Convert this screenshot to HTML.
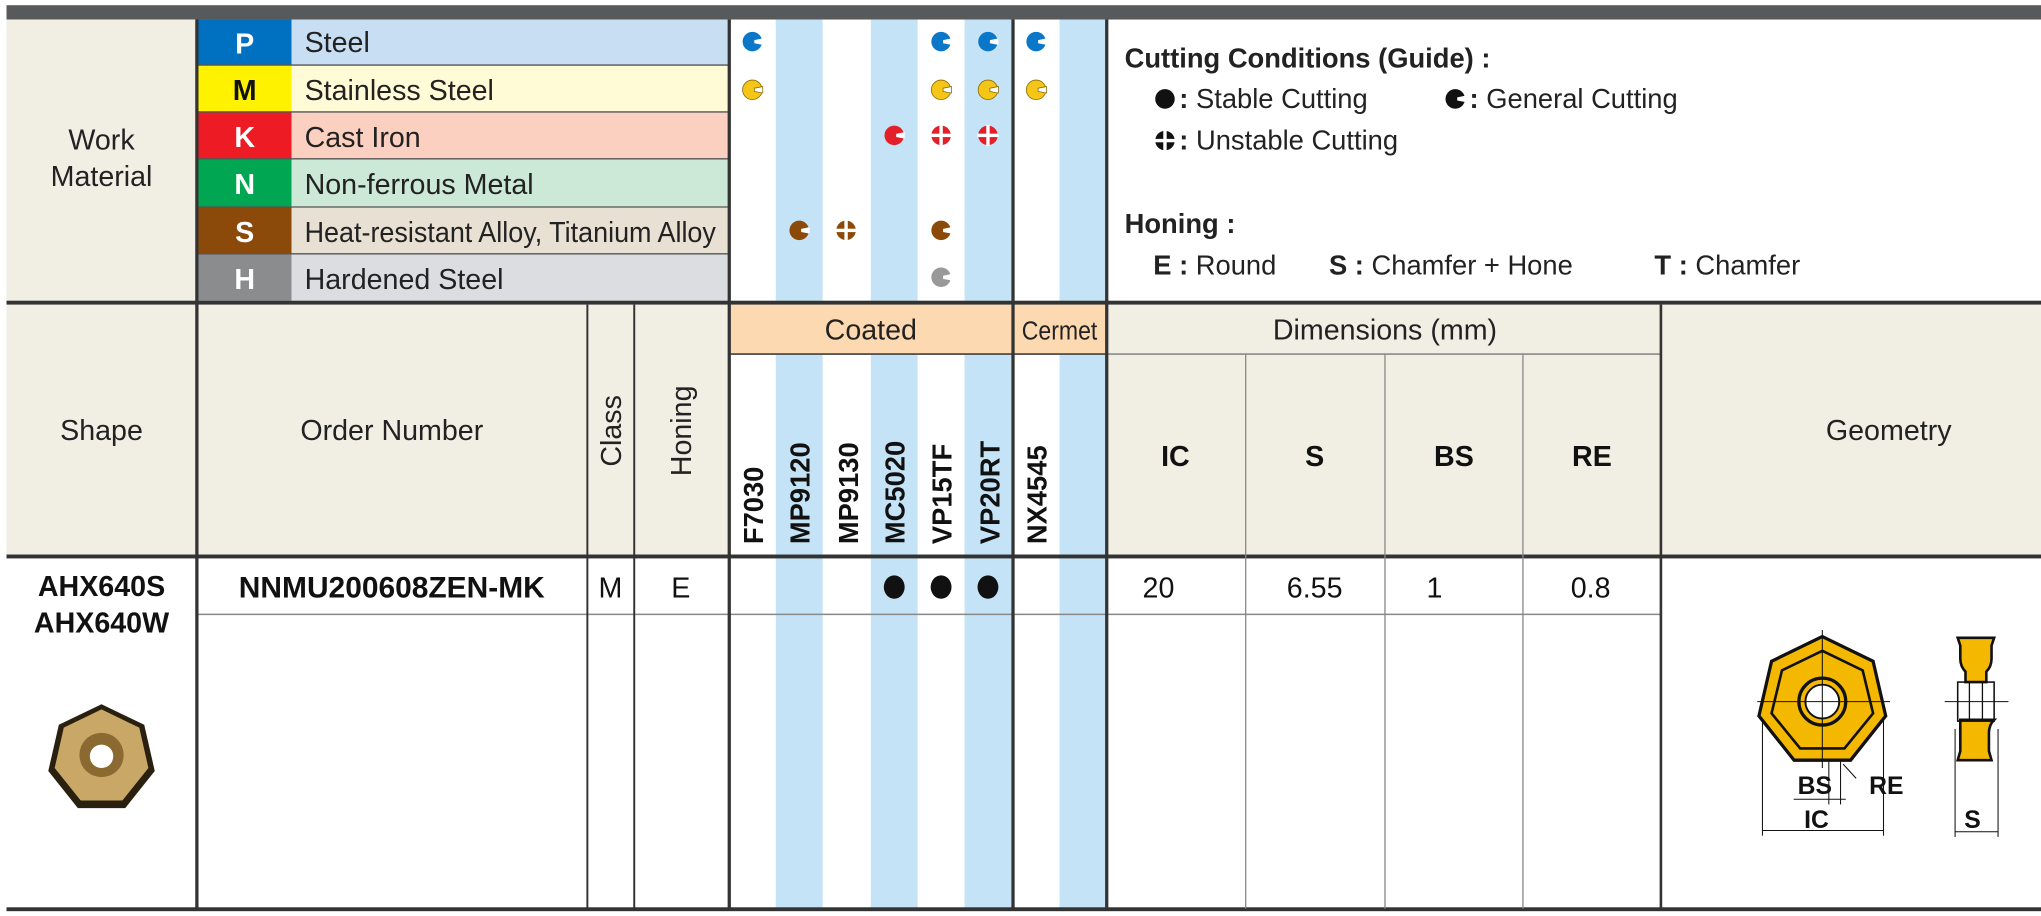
<!DOCTYPE html>
<html><head><meta charset="utf-8"><style>html,body{margin:0;padding:0;background:#fff}svg{display:block}</style></head><body>
<svg width="2041" height="916" viewBox="0 0 1568 703.7" preserveAspectRatio="none" xmlns="http://www.w3.org/2000/svg" font-family="Liberation Sans, Arial, sans-serif">
<defs>
<g id="cc"><circle r="7.5"/><path d="M8,-2.5 L1.5,-1.2 L1.5,1.2 L8,2.5 Z" fill="#fff"/></g>
<g id="cx"><circle r="7.5"/><rect x="-1.3" y="-8" width="2.6" height="16" fill="#fff"/><rect x="-8" y="-1.3" width="16" height="2.6" fill="#fff"/></g>
</defs>
<rect x="0" y="0" width="1568" height="704" fill="#fff"/>
<rect x="5" y="4" width="1563" height="11" fill="#58595b"/>
<rect x="5" y="15" width="146" height="216" fill="#f1eee4"/>
<text x="78" y="115" font-size="22" text-anchor="middle" fill="#222">Work</text>
<text x="78" y="143" font-size="22" text-anchor="middle" fill="#222">Material</text>
<g font-size="22" font-weight="bold" text-anchor="middle">
<rect x="151" y="15" width="73" height="35" fill="#0070c0"/><rect x="224" y="15" width="336" height="35" fill="#c8def2"/><text x="188" y="41" fill="#fff">P</text>
<rect x="151" y="50" width="73" height="36" fill="#fff200"/><rect x="224" y="50" width="336" height="36" fill="#fffbd6"/><text x="188" y="77" fill="#111">M</text>
<rect x="151" y="86" width="73" height="36" fill="#ed1c24"/><rect x="224" y="86" width="336" height="36" fill="#fbd0c0"/><text x="188" y="113" fill="#fff">K</text>
<rect x="151" y="122" width="73" height="37" fill="#00a651"/><rect x="224" y="122" width="336" height="37" fill="#cce8d6"/><text x="188" y="149" fill="#fff">N</text>
<rect x="151" y="159" width="73" height="36" fill="#8b4a0a"/><rect x="224" y="159" width="336" height="36" fill="#e8e0d2"/><text x="188" y="186" fill="#fff">S</text>
<rect x="151" y="195" width="73" height="36" fill="#8a8c8e"/><rect x="224" y="195" width="336" height="36" fill="#dcdde0"/><text x="188" y="222" fill="#fff">H</text>
</g>
<g font-size="22" fill="#222">
<text x="234" y="40">Steel</text>
<text x="234" y="77">Stainless Steel</text>
<text x="234" y="113">Cast Iron</text>
<text x="234" y="149">Non-ferrous Metal</text>
<text x="234" y="186" textLength="316" lengthAdjust="spacingAndGlyphs">Heat-resistant Alloy, Titanium Alloy</text>
<text x="234" y="222">Hardened Steel</text>
</g>
<g stroke="#555" stroke-width="1"><line x1="151" y1="50" x2="560" y2="50"/><line x1="151" y1="86" x2="560" y2="86"/><line x1="151" y1="122" x2="560" y2="122"/><line x1="151" y1="159" x2="560" y2="159"/><line x1="151" y1="195" x2="560" y2="195"/></g>
<g fill="#c5e3f6">
<rect x="596" y="15" width="36" height="216"/><rect x="669" y="15" width="36" height="216"/><rect x="741" y="15" width="37" height="216"/><rect x="814" y="15" width="36" height="216"/>
<rect x="596" y="272" width="36" height="426"/><rect x="669" y="272" width="36" height="426"/><rect x="741" y="272" width="37" height="426"/><rect x="814" y="272" width="36" height="426"/>
</g>
<g fill="#0a77c9"><use href="#cc" x="578" y="32"/><use href="#cc" x="723" y="32"/><use href="#cc" x="759" y="32"/><use href="#cc" x="796" y="32"/></g>
<g fill="#f5c518" stroke="#8a6a00" stroke-width="0.6"><use href="#cc" x="578" y="69"/><use href="#cc" x="723" y="69"/><use href="#cc" x="759" y="69"/><use href="#cc" x="796" y="69"/></g>
<g fill="#e3202a"><use href="#cc" x="687" y="104"/><use href="#cx" x="723" y="104"/><use href="#cx" x="759" y="104"/></g>
<g fill="#8b4a0a"><use href="#cc" x="614" y="177"/><use href="#cx" x="650" y="177"/><use href="#cc" x="723" y="177"/></g>
<g fill="#999"><use href="#cc" x="723" y="213"/></g>
<g font-size="21" fill="#222">
<text x="864" y="52" font-weight="bold">Cutting Conditions (Guide) :</text>
<circle cx="895" cy="76" r="7.5" fill="#111"/><text x="906" y="83"><tspan font-weight="bold">:</tspan> Stable Cutting</text>
<use href="#cc" x="1118" y="76" fill="#111"/><text x="1129" y="83"><tspan font-weight="bold">:</tspan> General Cutting</text>
<use href="#cx" x="895" y="108" fill="#111"/><text x="906" y="115"><tspan font-weight="bold">:</tspan> Unstable Cutting</text>
<text x="864" y="179" font-weight="bold">Honing :</text>
<text x="886" y="211"><tspan font-weight="bold">E</tspan> <tspan font-weight="bold">:</tspan> Round</text>
<text x="1021" y="211"><tspan font-weight="bold">S</tspan> <tspan font-weight="bold">:</tspan> Chamfer + Hone</text>
<text x="1271" y="211"><tspan font-weight="bold">T</tspan> <tspan font-weight="bold">:</tspan> Chamfer</text>
</g>
<rect x="5" y="234" width="555" height="194" fill="#f1eee4"/>
<rect x="560" y="234" width="290" height="38" fill="#fcd9b0"/>
<rect x="850" y="234" width="718" height="194" fill="#f1eee4"/>
<g font-size="22" fill="#222" text-anchor="middle">
<text x="78" y="338">Shape</text>
<text x="301" y="338">Order Number</text>
<text x="1451" y="338">Geometry</text>
<text x="669" y="261">Coated</text>
<text x="814" y="261" font-size="20" textLength="58" lengthAdjust="spacingAndGlyphs">Cermet</text>
<text x="1064" y="261">Dimensions (mm)</text>
<text transform="translate(477,331) rotate(-90)">Class</text>
<text transform="translate(531,331) rotate(-90)">Honing</text>
</g>
<g font-size="22" font-weight="bold" fill="#111" text-anchor="middle">
<text x="903" y="358">IC</text><text x="1010" y="358">S</text><text x="1117" y="358">BS</text><text x="1223" y="358">RE</text>
</g>
<g font-size="21" font-weight="bold" fill="#111">
<text transform="translate(586,418) rotate(-90)">F7030</text>
<text transform="translate(622,418) rotate(-90)">MP9120</text>
<text transform="translate(659,418) rotate(-90)">MP9130</text>
<text transform="translate(695,418) rotate(-90)">MC5020</text>
<text transform="translate(731,418) rotate(-90)">VP15TF</text>
<text transform="translate(768,418) rotate(-90)">VP20RT</text>
<text transform="translate(804,418) rotate(-90)">NX4545</text>
</g>
<rect x="5" y="231" width="1563" height="3" fill="#333"/>
<rect x="5" y="426" width="1563" height="3" fill="#333"/>
<rect x="5" y="697" width="1563" height="3" fill="#333"/>
<line x1="560" y1="272" x2="850" y2="272" stroke="#555" stroke-width="1.5"/>
<line x1="850" y1="272" x2="1276" y2="272" stroke="#777" stroke-width="1"/>
<line x1="151" y1="472" x2="1276" y2="472" stroke="#888" stroke-width="1.2"/>
<g fill="#333">
<rect x="150" y="15" width="2.5" height="683"/>
<rect x="559" y="15" width="2.5" height="683"/>
<rect x="777" y="15" width="2.5" height="683"/>
<rect x="849" y="15" width="2.5" height="683"/>
<rect x="1275" y="234" width="2" height="464"/>
<rect x="450.5" y="234" width="1.5" height="464"/>
<rect x="486.5" y="234" width="1.5" height="464"/>
</g>
<g stroke="#888" stroke-width="1"><line x1="957" y1="272" x2="957" y2="698"/><line x1="1064" y1="272" x2="1064" y2="698"/><line x1="1170" y1="272" x2="1170" y2="698"/></g>
<g font-size="22" fill="#111" text-anchor="middle">
<text x="78" y="458" font-weight="bold">AHX640S</text>
<text x="78" y="486" font-weight="bold">AHX640W</text>
<text x="301" y="459" font-weight="bold" font-size="23">NNMU200608ZEN-MK</text>
<text x="469" y="459">M</text><text x="523" y="459">E</text>
<text x="890" y="459">20</text><text x="1010" y="459">6.55</text><text x="1102" y="459">1</text><text x="1222" y="459">0.8</text>
</g>
<g fill="#111"><ellipse cx="687" cy="451" rx="8" ry="9"/><ellipse cx="723" cy="451" rx="8" ry="9"/><ellipse cx="759" cy="451" rx="8" ry="9"/></g>
<!-- photo -->
<polygon points="78,541 110.8,556.8 118.9,592.3 96.2,620.8 59.8,620.8 37.1,592.3 45.2,556.8" fill="#2a2010"/>
<polygon points="78,545 107,559 114,590 94,615 62,615 42,590 49,559" fill="#c9a766"/>
<circle cx="78" cy="580" r="17" fill="#8a6a30"/><circle cx="78" cy="581" r="9" fill="#fff"/>
<!-- geometry -->
<g stroke="#111">
<polygon points="1400,489 1439,508 1448.7,550 1421.7,584 1378.3,584 1351.3,550 1361,508" fill="#f5b800" stroke-width="2.5"/>
<polygon points="1400,500 1431,515 1439,548 1417,575 1383,575 1361,548 1369,515" fill="none" stroke-width="2"/>
<circle cx="1400" cy="539" r="18" fill="#f5b800" stroke-width="2.5"/>
<circle cx="1400" cy="539" r="13" fill="#fff" stroke-width="1.5"/>
<line x1="1350" y1="539" x2="1452" y2="539" stroke-width="0.8"/><line x1="1400" y1="484" x2="1400" y2="590" stroke-width="0.8"/>
<path d="M1504,490 h28 l-2,6 v10 q0,6 -4,10 v8 h-16 v-8 q-4,-4 -4,-10 v-10 z" fill="#f5b800" stroke-width="2"/>
<path d="M1506,553 h26 v0 q-4,4 -4,10 v14 l2,7 h-26 l2,-7 v-14 q0,-6 0,-10 z" fill="#f5b800" stroke-width="2"/>
<rect x="1504" y="524" width="28" height="30" fill="none" stroke-width="1.2"/>
<line x1="1513" y1="524" x2="1513" y2="554" stroke-width="1"/><line x1="1523" y1="524" x2="1523" y2="554" stroke-width="1"/>
<line x1="1494" y1="539" x2="1543" y2="539" stroke-width="0.8"/>
<g stroke-width="0.8"><line x1="1354" y1="552" x2="1354" y2="642"/><line x1="1447" y1="552" x2="1447" y2="642"/><line x1="1354" y1="638" x2="1447" y2="638"/>
<line x1="1378" y1="614" x2="1418" y2="614"/><line x1="1405" y1="584" x2="1405" y2="618"/><line x1="1414" y1="584" x2="1414" y2="618"/><line x1="1426" y1="598" x2="1416" y2="587"/>
<line x1="1502" y1="560" x2="1502" y2="643"/><line x1="1535" y1="560" x2="1535" y2="643"/><line x1="1502" y1="639" x2="1535" y2="639"/></g>
</g>
<g font-size="19" font-weight="bold" fill="#111">
<text x="1381" y="610">BS</text><text x="1436" y="610">RE</text><text x="1386" y="636">IC</text><text x="1509" y="636">S</text>
</g>
</svg>
</body></html>
